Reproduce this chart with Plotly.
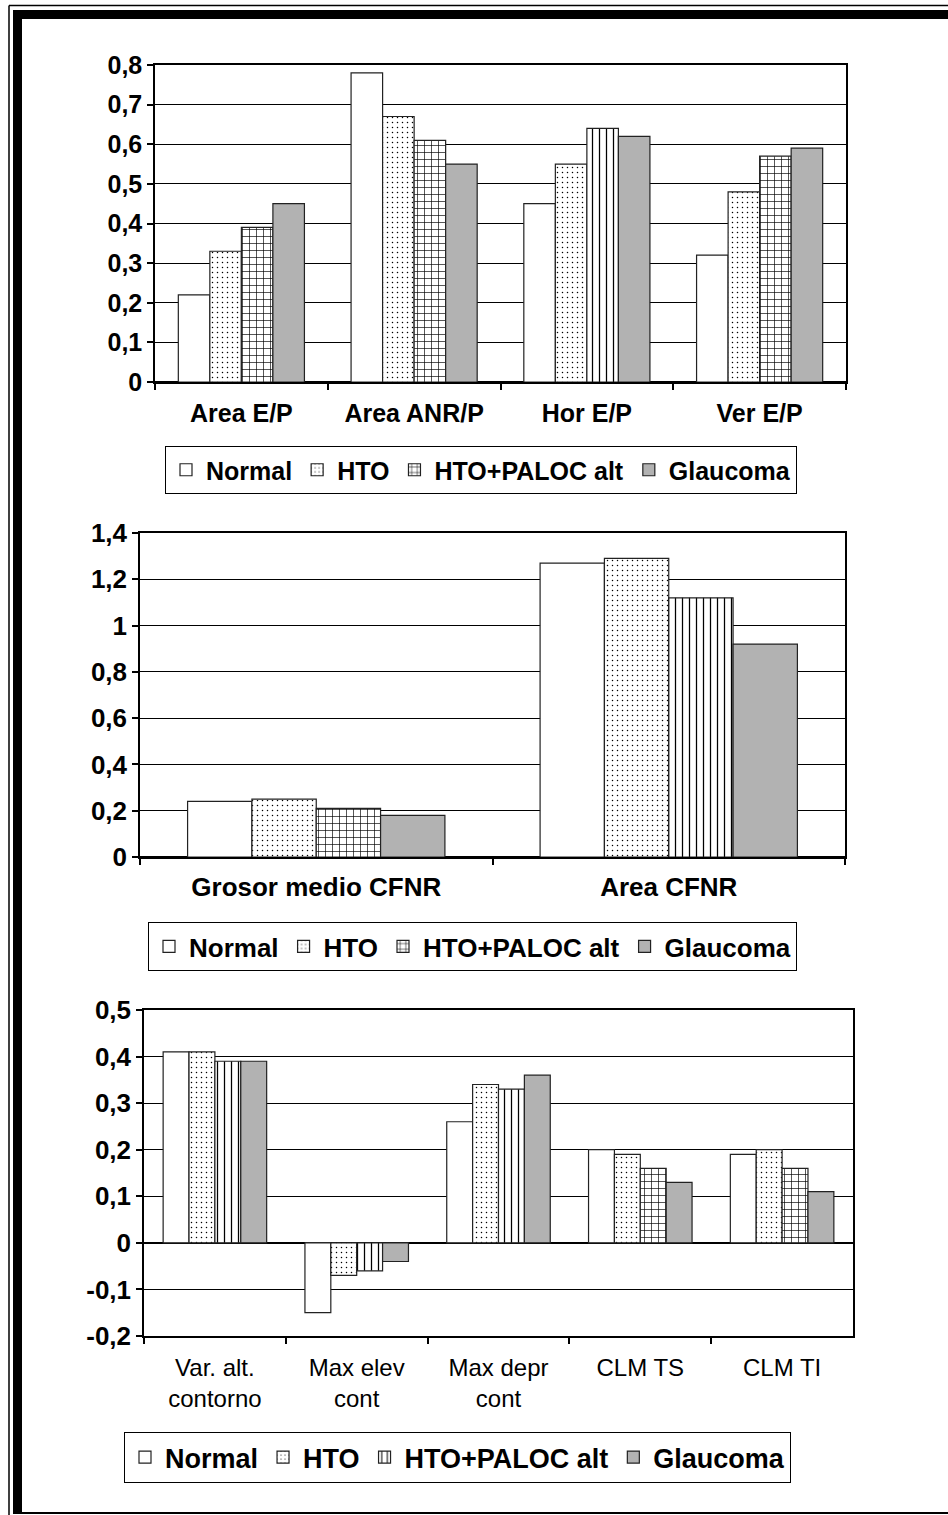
import plotly.graph_objects as go

W, H = 948, 1515

series = ["Normal", "HTO", "HTO+PALOC alt", "Glaucoma"]

cats1 = ["Area E/P", "Area ANR/P", "Hor E/P", "Ver E/P"]
normal1 = [0.22, 0.78, 0.45, 0.32]
hto1 = [0.33, 0.67, 0.55, 0.48]
paloc1 = [0.39, 0.61, 0.64, 0.57]
glaucoma1 = [0.45, 0.55, 0.62, 0.59]

cats2 = ["Grosor medio CFNR", "Area CFNR"]
normal2 = [0.24, 1.27]
hto2 = [0.25, 1.29]
paloc2 = [0.21, 1.12]
glaucoma2 = [0.18, 0.92]

cats3 = ["Var. alt.<br>contorno", "Max elev<br>cont", "Max depr<br>cont", "CLM TS", "CLM TI"]
normal3 = [0.41, -0.15, 0.26, 0.20, 0.19]
hto3 = [0.41, -0.07, 0.34, 0.19, 0.20]
paloc3 = [0.39, -0.06, 0.33, 0.16, 0.16]
glaucoma3 = [0.39, -0.04, 0.36, 0.13, 0.11]

ytick1 = [0, 0.1, 0.2, 0.3, 0.4, 0.5, 0.6, 0.7, 0.8]
ylab1 = ["0", "0,1", "0,2", "0,3", "0,4", "0,5", "0,6", "0,7", "0,8"]
ytick2 = [0, 0.2, 0.4, 0.6, 0.8, 1.0, 1.2, 1.4]
ylab2 = ["0", "0,2", "0,4", "0,6", "0,8", "1", "1,2", "1,4"]
ytick3 = [-0.2, -0.1, 0, 0.1, 0.2, 0.3, 0.4, 0.5]
ylab3 = ["-0,2", "-0,1", "0", "0,1", "0,2", "0,3", "0,4", "0,5"]

FONT = "Liberation Sans, Arial, sans-serif"
EDGE = "#222222"

def px_x(x):
    return x / W

def px_y(y):
    return 1 - y / H

fig = go.Figure()

def add_chart(idx, cats, vals, paloc_shapes, legend_name):
    xa = "x" if idx == 1 else f"x{idx}"
    ya = "y" if idx == 1 else f"y{idx}"
    styles = [
        dict(color="white", pattern=None),
        dict(color="white", pattern=dict(shape=".", size=5, solidity=0.07, fgcolor="black", bgcolor="white", fillmode="replace")),
        dict(color="white", pattern=dict(shape=paloc_shapes, size=7, solidity=0.18, fgcolor="black", bgcolor="white", fillmode="replace")),
        dict(color="#b2b2b2", pattern=None),
    ]
    for name, v, st in zip(series, vals, styles):
        marker = dict(color=st["color"], line=dict(color=EDGE, width=1.2))
        if st["pattern"] is not None:
            marker["pattern"] = st["pattern"]
        fig.add_trace(go.Bar(x=cats, y=v, name=name, marker=marker, xaxis=xa, yaxis=ya,
                             legend=legend_name, hoverinfo="skip"))

add_chart(1, cats1, [normal1, hto1, paloc1, glaucoma1], ["+", "+", "|", "+"], "legend")
add_chart(2, cats2, [normal2, hto2, paloc2, glaucoma2], ["+", "|"], "legend2")
add_chart(3, cats3, [normal3, hto3, paloc3, glaucoma3], ["|", "|", "|", "+", "+"], "legend3")

def xaxis_cfg(x0, x1, anchor, bold, size, standoff):
    return dict(domain=[px_x(x0), px_x(x1)], anchor=anchor, showline=True, linecolor="black", linewidth=1.5,
                mirror=True, ticks="outside", tickson="boundaries", ticklen=6, tickcolor="black", tickwidth=1.5,
                showgrid=False, automargin=False, ticklabelstandoff=standoff,
                tickfont=dict(family=FONT, size=size, color="black", weight="bold" if bold else "normal"),
                fixedrange=True)

def yaxis_cfg(y_top, y_bot, anchor, rng, tv, tt, size):
    return dict(domain=[px_y(y_bot), px_y(y_top)], anchor=anchor, range=rng, tickvals=tv, ticktext=tt,
                showline=True, linecolor="black", linewidth=1.5, mirror=True, ticks="outside", ticklen=6,
                tickcolor="black", tickwidth=1.5, showgrid=True, gridcolor="black", gridwidth=1,
                zeroline=True, zerolinecolor="black", zerolinewidth=2, automargin=False,
                tickfont=dict(family=FONT, size=size, color="black", weight="bold"), fixedrange=True)

def legend_cfg(x, y, size):
    return dict(x=px_x(x), y=px_y(y), xanchor="left", yanchor="top", orientation="h",
                bordercolor="black", borderwidth=1, bgcolor="white",
                font=dict(family=FONT, size=size, color="black", weight="bold"),
                itemwidth=30, tracegroupgap=0, itemclick=False, itemdoubleclick=False)

shapes = [
    dict(type="line", xref="paper", yref="paper", x0=px_x(9), x1=px_x(9), y0=px_y(1515), y1=px_y(5.5),
         line=dict(color="black", width=1.5)),
    dict(type="line", xref="paper", yref="paper", x0=px_x(9), x1=1.0, y0=px_y(5.5), y1=px_y(5.5),
         line=dict(color="black", width=1.5)),
    dict(type="rect", xref="paper", yref="paper", x0=px_x(13), x1=px_x(22), y0=px_y(1514), y1=px_y(10),
         fillcolor="black", line=dict(width=0)),
    dict(type="rect", xref="paper", yref="paper", x0=px_x(13), x1=1.0, y0=px_y(19), y1=px_y(10),
         fillcolor="black", line=dict(width=0)),
    dict(type="line", xref="paper", yref="paper", x0=px_x(13), x1=1.0, y0=px_y(1513), y1=px_y(1513),
         line=dict(color="black", width=2)),
]

fig.update_layout(
    width=W, height=H, margin=dict(l=0, r=0, t=0, b=0, pad=0, autoexpand=False),
    paper_bgcolor="white", plot_bgcolor="white",
    barmode="group", bargroupgap=0, bargap=0.27,
    showlegend=True,
    xaxis=xaxis_cfg(155, 846, "y", True, 25, 8),
    yaxis=yaxis_cfg(65, 382, "x", [0, 0.8], ytick1, ylab1, 25),
    xaxis2=xaxis_cfg(140, 845, "y2", True, 26, 6),
    yaxis2=yaxis_cfg(533, 857, "x2", [0, 1.4], ytick2, ylab2, 26),
    xaxis3=xaxis_cfg(144, 853, "y3", False, 24, 9),
    yaxis3=yaxis_cfg(1010, 1336, "x3", [-0.2, 0.5], ytick3, ylab3, 26),
    legend=legend_cfg(165, 446, 25),
    legend2=legend_cfg(148, 922, 26),
    legend3=legend_cfg(124, 1432, 27),
    shapes=shapes,
)

fig.write_html("out.html")
